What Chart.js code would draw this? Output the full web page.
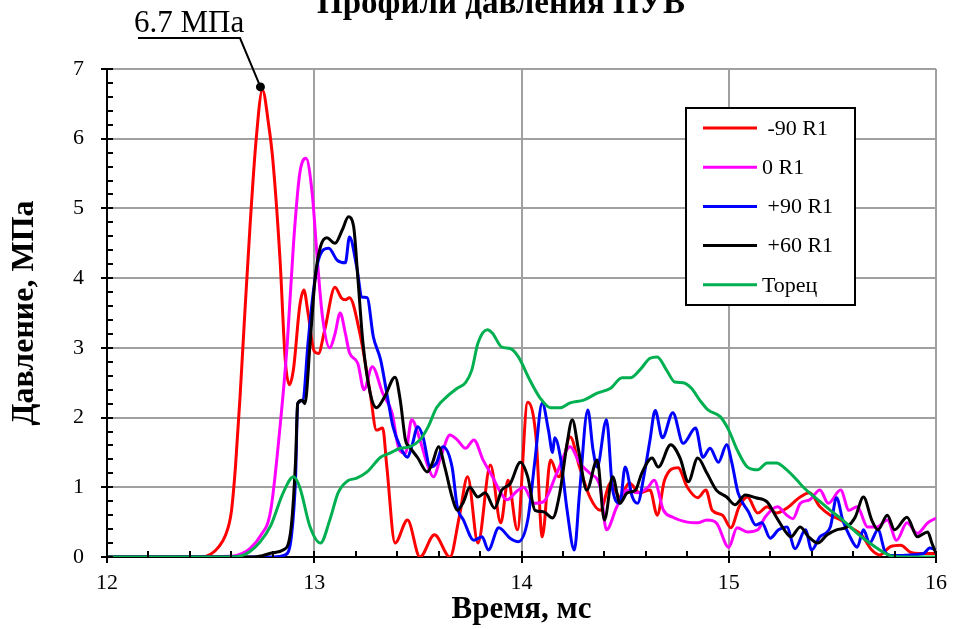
<!DOCTYPE html>
<html lang="ru">
<head>
<meta charset="utf-8">
<title>Профили давления ПУВ</title>
<script src="https://cdn.jsdelivr.net/npm/chart.js@4.4.1/dist/chart.umd.min.js"></script>
<style>
  html, body { margin: 0; padding: 0; background: #fff; }
  canvas { display: block; }
</style>
</head>
<body>
<canvas id="grafico" width="953" height="629"></canvas>
<script>
// Títulos y etiquetas
const titulo = 'Профили давления ПУВ';
const tituloX = 'Время, мс';
const tituloY = 'Давление, МПа';
const unidad = 'МПа';

// Ejes: tiempo en ms, presión en MPa
const ejeX = [12, 16];
const ejeY = [0, 7];
const pasoMenor = 0.2;

// Serie -90 R1
const tRojo = [12.0, 12.45, 12.5, 12.54, 12.57, 12.6, 12.62, 12.642, 12.665, 12.69, 12.72, 12.75, 12.78, 12.80, 12.835,
  12.86, 12.88, 12.90, 12.93, 12.95, 12.97, 13.00, 13.02, 13.05, 13.10, 13.13, 13.15, 13.17, 13.22, 13.27, 13.30,
  13.33, 13.35, 13.39, 13.45, 13.51, 13.58, 13.655, 13.70, 13.74, 13.79, 13.85, 13.90, 13.935, 13.98, 14.03, 14.07,
  14.10, 14.14, 14.18, 14.235, 14.28, 14.33, 14.38, 14.43, 14.475, 14.52, 14.57, 14.62, 14.655, 14.69, 14.755, 14.80,
  14.85, 14.89, 14.92, 14.97, 15.01, 15.05, 15.09, 15.14, 15.185, 15.23, 15.28, 15.345, 15.39, 15.44, 15.49, 15.54,
  15.585, 15.64, 15.69, 15.73, 15.78, 15.83, 15.875, 15.92, 16.0];
const pRojo = [0, 0, 0.04, 0.15, 0.3, 0.65, 1.3, 2.3, 3.5, 4.74, 6.0, 6.7, 6.2, 5.7, 4.26,
  2.83, 2.47, 2.7, 3.6, 3.83, 3.5, 2.95, 2.92, 3.25, 3.87, 3.72, 3.69, 3.72, 3.21, 2.35, 1.82,
  1.85, 1.3, 0.2, 0.53, 0, 0.32, 0, 0.58, 1.15, 0.2, 1.32, 0.49, 1.1, 0.39, 2.22, 1.72,
  0.29, 1.39, 1.15, 1.72, 1.29, 0.86, 0.67, 1.06, 0.86, 1.06, 0.92, 0.96, 0.6, 1.1, 1.28, 1.0,
  0.85, 0.96, 0.67, 0.6, 0.42, 0.72, 0.86, 0.63, 0.72, 0.63, 0.7, 0.86, 0.92, 0.72, 0.6, 0.53,
  0.43, 0.32, 0.1, 0.03, 0.15, 0.17, 0.07, 0.05, 0.05];

// Serie 0 R1
const tMagenta = [12.0, 12.6, 12.65, 12.69, 12.74, 12.79, 12.835, 12.87, 12.90, 12.93, 12.96, 12.99, 13.015, 13.04,
  13.075, 13.10, 13.125, 13.15, 13.17, 13.21, 13.24, 13.28, 13.33, 13.375, 13.41, 13.44, 13.47, 13.51, 13.55,
  13.575, 13.61, 13.655, 13.69, 13.73, 13.77, 13.815, 13.86, 13.90, 13.93, 13.98, 14.01, 14.06, 14.105, 14.17,
  14.235, 14.28, 14.33, 14.38, 14.41, 14.46, 14.51, 14.56, 14.61, 14.64, 14.685, 14.73, 14.80, 14.85, 14.895,
  14.94, 15.0, 15.04, 15.09, 15.14, 15.175, 15.235, 15.28, 15.31, 15.345, 15.39, 15.44, 15.48, 15.54, 15.58,
  15.62, 15.67, 15.715, 15.765, 15.81, 15.86, 15.91, 15.96, 16.0];
const pMagenta = [0, 0.01, 0.05, 0.12, 0.3, 0.67, 1.87, 3.07, 4.5, 5.5, 5.72, 5.22, 4.26, 3.44,
  3.0, 3.2, 3.5, 3.21, 2.93, 2.78, 2.4, 2.73, 2.35, 2.07, 1.54, 1.49, 1.97, 1.68, 1.29,
  1.15, 1.43, 1.75, 1.68, 1.56, 1.68, 1.39, 1.15, 0.92, 0.82, 0.95, 1.0, 0.77, 0.79, 1.2,
  1.58, 1.35, 1.2, 1.0, 0.39, 0.72, 0.96, 0.92, 1.0, 1.1, 0.67, 0.57, 0.5, 0.49, 0.53,
  0.49, 0.14, 0.42, 0.36, 0.39, 0.57, 0.72, 0.6, 0.55, 0.77, 0.82, 0.96, 0.77, 0.96, 0.67,
  0.72, 0.43, 0.43, 0.53, 0.24, 0.49, 0.34, 0.49, 0.56];

// Serie +90 R1
const tAzul = [12.0, 12.8, 12.86, 12.89, 12.91, 12.92, 12.945, 12.97, 12.995, 13.02, 13.07, 13.11, 13.15, 13.17,
  13.205, 13.23, 13.255, 13.285, 13.32, 13.35, 13.38, 13.415, 13.45, 13.47, 13.50, 13.525, 13.56, 13.59, 13.62,
  13.665, 13.69, 13.72, 13.77, 13.81, 13.84, 13.89, 13.945, 13.985, 14.03, 14.065, 14.10, 14.13, 14.15, 14.16,
  14.19, 14.22, 14.255, 14.28, 14.32, 14.345, 14.365, 14.41, 14.44, 14.475, 14.50, 14.535, 14.56, 14.59, 14.62,
  14.645, 14.68, 14.73, 14.78, 14.84, 14.875, 14.91, 14.95, 14.99, 15.015, 15.045, 15.095, 15.13, 15.16, 15.20,
  15.24, 15.28, 15.32, 15.37, 15.40, 15.44, 15.49, 15.52, 15.55, 15.585, 15.62, 15.65, 15.68, 15.72, 15.755,
  15.79, 15.94, 15.97, 16.0];
const pAzul = [0, 0, 0.03, 0.3, 1.15, 2.2, 2.25, 3.07, 3.79, 4.26, 4.43, 4.26, 4.22, 4.59,
  4.16, 3.73, 3.72, 3.16, 2.83, 2.35, 1.87, 1.58, 1.43, 1.58, 1.87, 1.72, 1.29, 1.35, 1.58,
  1.29, 0.72, 0.53, 0.24, 0.29, 0.1, 0.42, 0.27, 0.22, 0.53, 1.39, 2.21, 1.82, 1.5, 1.71,
  1.39, 0.67, 0.1, 0.92, 2.11, 1.54, 1.29, 1.97, 0.96, 0.77, 1.29, 0.86, 0.77, 1.15, 1.68,
  2.1, 1.71, 2.07, 1.63, 1.85, 1.43, 1.56, 1.36, 1.61, 1.35, 0.92, 0.65, 0.46, 0.49, 0.27,
  0.39, 0.43, 0.12, 0.39, 0.1, 0.29, 0.43, 0.85, 0.53, 0.29, 0.14, 0.39, 0.2, 0.39, 0.07,
  0.02, 0.05, 0.13, 0.1];

// Serie +60 R1
const tNegro = [12.0, 12.7, 12.75, 12.8, 12.85, 12.885, 12.91, 12.92, 12.94, 12.955, 12.98, 13.005, 13.03, 13.06,
  13.10, 13.135, 13.165, 13.19, 13.21, 13.235, 13.27, 13.30, 13.34, 13.39, 13.415, 13.44, 13.46, 13.50, 13.545,
  13.57, 13.60, 13.63, 13.665, 13.69, 13.72, 13.75, 13.79, 13.825, 13.87, 13.905, 13.945, 13.995, 14.03, 14.065,
  14.105, 14.15, 14.185, 14.22, 14.245, 14.275, 14.315, 14.365, 14.40, 14.44, 14.475, 14.51, 14.55, 14.58, 14.63,
  14.66, 14.72, 14.765, 14.805, 14.85, 14.895, 14.94, 14.99, 15.03, 15.08, 15.13, 15.185, 15.23, 15.28, 15.30,
  15.345, 15.385, 15.43, 15.475, 15.52, 15.57, 15.61, 15.65, 15.69, 15.72, 15.765, 15.80, 15.86, 15.91, 15.96,
  15.98, 16.0];
const pNegro = [0, 0, 0.02, 0.06, 0.1, 0.34, 1.39, 2.2, 2.25, 2.2, 3.07, 4.02, 4.45, 4.58,
  4.5, 4.69, 4.88, 4.74, 4.02, 3.07, 2.35, 2.14, 2.3, 2.58, 2.25, 1.68, 1.58, 1.42, 1.22,
  1.35, 1.58, 1.29, 0.86, 0.67, 0.79, 1.0, 0.86, 0.92, 0.7, 0.96, 1.05, 1.36, 1.15, 0.67,
  0.65, 0.56, 0.92, 1.63, 1.97, 1.54, 0.96, 1.39, 0.53, 1.15, 0.77, 0.92, 0.96, 1.2, 1.42,
  1.29, 1.61, 1.42, 1.08, 1.42, 1.2, 0.96, 0.86, 0.75, 0.89, 0.85, 0.79, 0.57, 0.34, 0.29,
  0.43, 0.29, 0.2, 0.32, 0.39, 0.43, 0.57, 0.86, 0.53, 0.39, 0.6, 0.39, 0.57, 0.29, 0.36,
  0.2, 0.05];

// Serie Торец
const tVerde = [12.0, 12.6, 12.65, 12.69, 12.74, 12.79, 12.85, 12.90, 12.93, 12.98, 13.03, 13.075, 13.115, 13.16,
  13.205, 13.255, 13.32, 13.365, 13.415, 13.46, 13.51, 13.55, 13.59, 13.64, 13.69, 13.73, 13.76, 13.79, 13.835,
  13.86, 13.905, 13.945, 13.985, 14.04, 14.09, 14.14, 14.185, 14.235, 14.30, 14.365, 14.43, 14.485, 14.525, 14.57,
  14.62, 14.655, 14.70, 14.74, 14.78, 14.82, 14.86, 14.90, 14.96, 15.0, 15.04, 15.09, 15.14, 15.185, 15.23, 15.28,
  15.33, 15.36, 15.43, 15.49, 15.55, 15.62, 15.68, 15.745, 15.79, 15.85, 16.0];
const pVerde = [0, 0, 0.02, 0.08, 0.22, 0.45, 0.92, 1.15, 1.0, 0.43, 0.2, 0.53, 0.92, 1.09,
  1.13, 1.22, 1.43, 1.49, 1.56, 1.58, 1.68, 1.87, 2.14, 2.3, 2.42, 2.5, 2.68, 3.07, 3.26,
  3.21, 3.01, 2.99, 2.87, 2.54, 2.28, 2.14, 2.14, 2.21, 2.25, 2.35, 2.42, 2.57, 2.57, 2.68,
  2.85, 2.87, 2.68, 2.51, 2.5, 2.42, 2.25, 2.11, 2.01, 1.82, 1.54, 1.29, 1.25, 1.35, 1.35, 1.25,
  1.1, 1.0, 0.82, 0.67, 0.53, 0.34, 0.2, 0.07, 0.01, 0, 0];

// Etiquetas de la leyenda (con el espaciado del original) y colores
const series = [
  { label: ' -90 R1', t: tRojo, p: pRojo, color: '#ff0000' },
  { label: '0 R1', t: tMagenta, p: pMagenta, color: '#ff00ff' },
  { label: ' +90 R1', t: tAzul, p: pAzul, color: '#0000ff' },
  { label: ' +60 R1', t: tNegro, p: pNegro, color: '#000000' },
  { label: 'Торец', t: tVerde, p: pVerde, color: '#00b050' }
];

const fuente = '"Liberation Serif", "Times New Roman", serif';

// Convierte cada serie en un dataset de puntos {x, y}
const datasets = series.map((s, i) => ({
  label: s.label,
  data: s.t.map((t, k) => ({ x: t, y: s.p[k] })),
  borderColor: s.color,
  backgroundColor: s.color,
  borderWidth: 3,
  pointRadius: 0,
  cubicInterpolationMode: 'monotone',
  fill: false,
  order: series.length - i   // la última serie queda encima
}));

// Marcas menores y mayores de los ejes
const marcasEjes = {
  id: 'marcasEjes',
  afterDraw(chart) {
    const { ctx, chartArea: a, scales: { x, y } } = chart;
    ctx.save();
    ctx.strokeStyle = '#000';
    ctx.lineWidth = 2;
    ctx.beginPath();
    const nx = Math.round((ejeX[1] - ejeX[0]) / pasoMenor);
    for (let i = 0; i <= nx; i++) {
      const px = Math.round(x.getPixelForValue(ejeX[0] + i * pasoMenor));
      const mayor = i % 5 === 0;
      ctx.moveTo(px, a.bottom + (mayor ? 6 : 0));
      ctx.lineTo(px, a.bottom - 6);
    }
    const ny = Math.round((ejeY[1] - ejeY[0]) / pasoMenor);
    for (let i = 0; i <= ny; i++) {
      const py = Math.round(y.getPixelForValue(ejeY[0] + i * pasoMenor));
      const mayor = i % 5 === 0;
      ctx.moveTo(a.left - (mayor ? 6 : 0), py);
      ctx.lineTo(a.left + 6, py);
    }
    ctx.stroke();
    ctx.restore();
  }
};

// Título, leyenda con marco y la llamada al pico máximo
const decoracion = {
  id: 'decoracion',
  afterDraw(chart) {
    const { ctx, scales: { x, y } } = chart;
    ctx.save();

    // título (queda cortado en el borde superior)
    ctx.fillStyle = '#000';
    ctx.font = 'bold 33px ' + fuente;
    ctx.textAlign = 'center';
    ctx.textBaseline = 'alphabetic';
    ctx.fillText(titulo, 501, 13);

    // leyenda
    const lx = 686, ly = 108, lw = 169, lh = 197;
    ctx.fillStyle = '#fff';
    ctx.fillRect(lx, ly, lw, lh);
    ctx.strokeStyle = '#000';
    ctx.lineWidth = 2;
    ctx.strokeRect(lx, ly, lw, lh);
    ctx.font = '22px ' + fuente;
    ctx.textAlign = 'left';
    ctx.textBaseline = 'middle';
    chart.data.datasets.forEach((ds, i) => {
      const yy = ly + 20 + i * 39.2;
      ctx.strokeStyle = ds.borderColor;
      ctx.lineWidth = 3;
      ctx.beginPath();
      ctx.moveTo(lx + 17, yy);
      ctx.lineTo(lx + 71, yy);
      ctx.stroke();
      ctx.fillStyle = '#000';
      ctx.fillText(ds.label, lx + 76, yy + 1);
    });

    // llamada al máximo de la serie -90 R1
    const pico = chart.data.datasets[0].data.reduce((m, d) => (d.y > m.y ? d : m));
    const px = x.getPixelForValue(pico.x) - 2;
    const py = y.getPixelForValue(pico.y) - 3;
    ctx.strokeStyle = '#000';
    ctx.lineWidth = 2;
    ctx.beginPath();
    ctx.moveTo(138, 38);
    ctx.lineTo(240, 38);
    ctx.lineTo(px, py);
    ctx.stroke();
    ctx.fillStyle = '#000';
    ctx.beginPath();
    ctx.arc(px, py, 4.5, 0, Math.PI * 2);
    ctx.fill();
    ctx.font = '31px ' + fuente;
    ctx.textAlign = 'left';
    ctx.textBaseline = 'alphabetic';
    ctx.fillText(pico.y.toFixed(1) + ' ' + unidad, 134, 32);

    ctx.restore();
  }
};

const ctx = document.getElementById('grafico').getContext('2d');
const grafico = new Chart(ctx, {
  type: 'line',
  data: { datasets: datasets },
  options: {
    responsive: false,
    animation: false,
    devicePixelRatio: 1,
    layout: { padding: { left: 0, right: 17, top: 69, bottom: 0 } },
    plugins: {
      legend: { display: false },
      title: { display: false },
      tooltip: { enabled: false }
    },
    scales: {
      x: {
        type: 'linear',
        min: ejeX[0],
        max: ejeX[1],
        afterFit: (s) => { s.height = 72; s.paddingLeft = 0; s.paddingRight = 0; },
        ticks: {
          stepSize: 1,
          color: '#000',
          font: { family: fuente, size: 22 },
          padding: 13,
          maxRotation: 0
        },
        grid: { color: '#a0a0a0', lineWidth: 2, drawTicks: false },
        border: { color: '#000', width: 2 },
        title: {
          display: true,
          text: tituloX,
          color: '#000',
          font: { family: fuente, size: 31, weight: 'bold' },
          padding: { top: 0, bottom: 0 }
        }
      },
      y: {
        type: 'linear',
        min: ejeY[0],
        max: ejeY[1],
        afterFit: (s) => { s.width = 107; },
        ticks: {
          stepSize: 1,
          color: '#000',
          font: { family: fuente, size: 22 },
          padding: 23
        },
        grid: { color: '#a0a0a0', lineWidth: 2, drawTicks: false },
        border: { color: '#000', width: 2 },
        title: {
          display: true,
          text: tituloY,
          color: '#000',
          font: { family: fuente, size: 32, weight: 'bold' },
          padding: { top: 6, bottom: 0 }
        }
      }
    }
  },
  plugins: [marcasEjes, decoracion]
});
</script>
</body>
</html>
